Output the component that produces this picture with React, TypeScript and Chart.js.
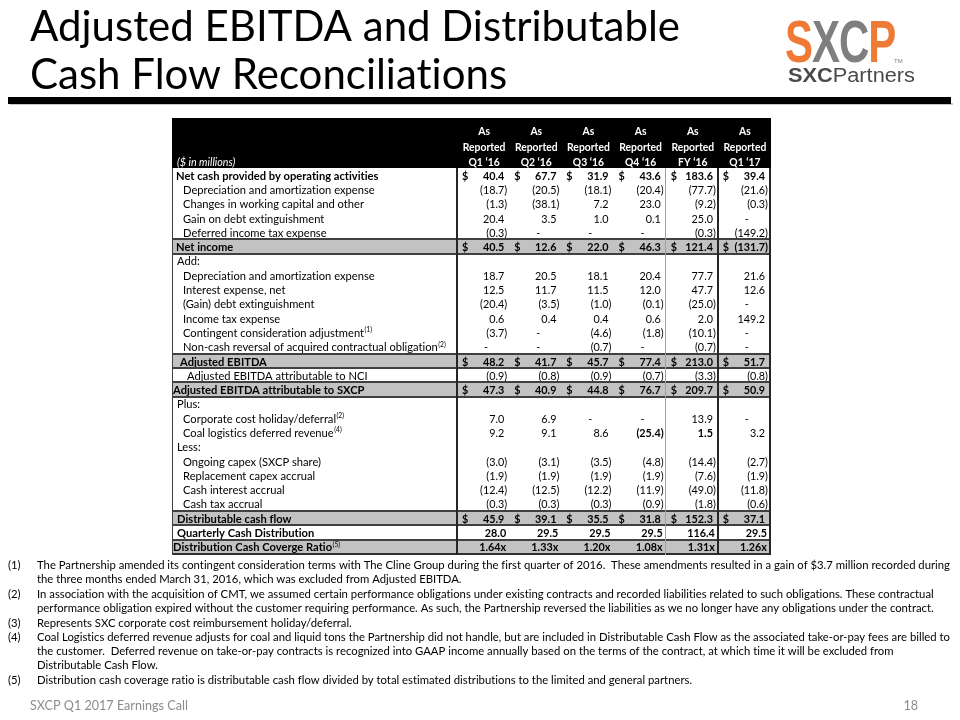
import React, { useEffect, useRef } from 'react';
import { Chart, registerables } from 'chart.js';

Chart.register(...registerables);

// ---------- data ----------
const periods = ['Q1 ‘16', 'Q2 ‘16', 'Q3 ‘16', 'Q4 ‘16', 'FY ‘16', 'Q1 ‘17'];
const headerLine1 = 'As';
const headerLine2 = 'Reported';
const unitsLabel = '($ in millions)';

const rowLabels = [
  'Net cash provided by operating activities',
  'Depreciation and amortization expense',
  'Changes in working capital and other',
  'Gain on debt extinguishment',
  'Deferred income tax expense',
  'Net income',
  'Add:',
  'Depreciation and amortization expense',
  'Interest expense, net',
  '(Gain) debt extinguishment',
  'Income tax expense',
  'Contingent consideration adjustment',
  'Non-cash reversal of acquired contractual obligation',
  'Adjusted EBITDA',
  'Adjusted EBITDA attributable to NCI',
  'Adjusted EBITDA attributable to SXCP',
  'Plus:',
  'Corporate cost holiday/deferral',
  'Coal logistics deferred revenue',
  'Less:',
  'Ongoing capex (SXCP share)',
  'Replacement capex accrual',
  'Cash interest accrual',
  'Cash tax accrual',
  'Distributable cash flow',
  'Quarterly Cash Distribution',
  'Distribution Cash Coverge Ratio',
];

const netCashOps = [40.4, 67.7, 31.9, 43.6, 183.6, 39.4];
const depAmortExp = [-18.7, -20.5, -18.1, -20.4, -77.7, -21.6];
const workingCapital = [-1.3, -38.1, 7.2, 23.0, -9.2, -0.3];
const gainDebtExt = [20.4, 3.5, 1.0, 0.1, 25.0, null];
const deferredTax = [-0.3, null, null, null, -0.3, -149.2];
const netIncome = [40.5, 12.6, 22.0, 46.3, 121.4, -131.7];
const addDepAmort = [18.7, 20.5, 18.1, 20.4, 77.7, 21.6];
const interestExp = [12.5, 11.7, 11.5, 12.0, 47.7, 12.6];
const gainDebtAdj = [-20.4, -3.5, -1.0, -0.1, -25.0, null];
const incomeTax = [0.6, 0.4, 0.4, 0.6, 2.0, 149.2];
const contingentAdj = [-3.7, null, -4.6, -1.8, -10.1, null];
const nonCashReversal = [null, null, -0.7, null, -0.7, null];
const adjEbitda = [48.2, 41.7, 45.7, 77.4, 213.0, 51.7];
const ebitdaNci = [-0.9, -0.8, -0.9, -0.7, -3.3, -0.8];
const ebitdaSxcp = [47.3, 40.9, 44.8, 76.7, 209.7, 50.9];
const corpCostHoliday = [7.0, 6.9, null, null, 13.9, null];
const coalDeferredRev = [9.2, 9.1, 8.6, -25.4, 1.5, 3.2];
const ongoingCapex = [-3.0, -3.1, -3.5, -4.8, -14.4, -2.7];
const replacementCapex = [-1.9, -1.9, -1.9, -1.9, -7.6, -1.9];
const cashInterest = [-12.4, -12.5, -12.2, -11.9, -49.0, -11.8];
const cashTax = [-0.3, -0.3, -0.3, -0.9, -1.8, -0.6];
const distributableCF = [45.9, 39.1, 35.5, 31.8, 152.3, 37.1];
const quarterlyDist = [28.0, 29.5, 29.5, 29.5, 116.4, 29.5];
const coverageRatio = [1.64, 1.33, 1.2, 1.08, 1.31, 1.26];

const titleLines = ['Adjusted EBITDA and Distributable', 'Cash Flow Reconciliations'];
const footnoteNums = ['(1)', '(2)', '(3)', '(4)', '(5)'];
const footnoteLines = [
  [
    'The Partnership amended its contingent consideration terms with The Cline Group during the first quarter of 2016.  These amendments resulted in a gain of $3.7 million recorded during',
    'the three months ended March 31, 2016, which was excluded from Adjusted EBITDA.',
  ],
  [
    'In association with the acquisition of CMT, we assumed certain performance obligations under existing contracts and recorded liabilities related to such obligations. These contractual',
    'performance obligation expired without the customer requiring performance. As such, the Partnership reversed the liabilities as we no longer have any obligations under the contract.',
  ],
  ['Represents SXC corporate cost reimbursement holiday/deferral.'],
  [
    'Coal Logistics deferred revenue adjusts for coal and liquid tons the Partnership did not handle, but are included in Distributable Cash Flow as the associated take-or-pay fees are billed to',
    'the customer.  Deferred revenue on take-or-pay contracts is recognized into GAAP income annually based on the terms of the contract, at which time it will be excluded from',
    'Distributable Cash Flow.',
  ],
  ['Distribution cash coverage ratio is distributable cash flow divided by total estimated distributions to the limited and general partners.'],
];
const footerText = 'SXCP Q1 2017 Earnings Call';
const pageNumber = '18';

// ---------- table built from the arrays ----------
type Kind = 'lead' | 'item' | 'section' | 'total' | 'nci' | 'sxcp' | 'bold' | 'ratio';
type Row = {
  label: string;
  values: (number | null)[] | null;
  kind: Kind;
  note?: string;
  boldCols?: number[];
  indent?: number;
};

const rows: Row[] = [
  { label: rowLabels[0], values: netCashOps, kind: 'lead' },
  { label: rowLabels[1], values: depAmortExp, kind: 'item' },
  { label: rowLabels[2], values: workingCapital, kind: 'item' },
  { label: rowLabels[3], values: gainDebtExt, kind: 'item' },
  { label: rowLabels[4], values: deferredTax, kind: 'item' },
  { label: rowLabels[5], values: netIncome, kind: 'total' },
  { label: rowLabels[6], values: null, kind: 'section' },
  { label: rowLabels[7], values: addDepAmort, kind: 'item' },
  { label: rowLabels[8], values: interestExp, kind: 'item' },
  { label: rowLabels[9], values: gainDebtAdj, kind: 'item' },
  { label: rowLabels[10], values: incomeTax, kind: 'item' },
  { label: rowLabels[11], values: contingentAdj, kind: 'item', note: '(1)' },
  { label: rowLabels[12], values: nonCashReversal, kind: 'item', note: '(2)' },
  { label: rowLabels[13], values: adjEbitda, kind: 'total', indent: 8 },
  { label: rowLabels[14], values: ebitdaNci, kind: 'nci' },
  { label: rowLabels[15], values: ebitdaSxcp, kind: 'sxcp' },
  { label: rowLabels[16], values: null, kind: 'section' },
  { label: rowLabels[17], values: corpCostHoliday, kind: 'item', note: '(2)' },
  { label: rowLabels[18], values: coalDeferredRev, kind: 'item', note: '(4)', boldCols: [3, 4] },
  { label: rowLabels[19], values: null, kind: 'section' },
  { label: rowLabels[20], values: ongoingCapex, kind: 'item' },
  { label: rowLabels[21], values: replacementCapex, kind: 'item' },
  { label: rowLabels[22], values: cashInterest, kind: 'item' },
  { label: rowLabels[23], values: cashTax, kind: 'item' },
  { label: rowLabels[24], values: distributableCF, kind: 'total', indent: 5 },
  { label: rowLabels[25], values: quarterlyDist, kind: 'bold' },
  { label: rowLabels[26], values: coverageRatio, kind: 'ratio', note: '(5)' },
];

const KIND_STYLE: Record<Kind, { bold: boolean; grey: boolean; dollar: boolean; indent: number; flush: boolean }> = {
  lead: { bold: true, grey: false, dollar: true, indent: 4, flush: false },
  item: { bold: false, grey: false, dollar: false, indent: 11, flush: false },
  section: { bold: false, grey: false, dollar: false, indent: 5, flush: false },
  total: { bold: true, grey: true, dollar: true, indent: 4, flush: false },
  nci: { bold: false, grey: false, dollar: false, indent: 15, flush: false },
  sxcp: { bold: true, grey: true, dollar: true, indent: 1, flush: false },
  bold: { bold: true, grey: false, dollar: false, indent: 5, flush: true },
  ratio: { bold: true, grey: true, dollar: false, indent: 1, flush: true },
};

const FONT = 'Lato, "Open Sans", sans-serif';
const LOGO_FONT = '"Liberation Sans", Arial, sans-serif';
const SQ = 0.9; // horizontal squeeze for numbers to approximate Calibri
const SQ_LABEL = 0.93;

function prep(ctx: CanvasRenderingContext2D) {
  const c: any = ctx;
  if ('textRendering' in c) c.textRendering = 'optimizeSpeed';
}

function drawText(
  ctx: CanvasRenderingContext2D,
  s: string,
  x: number,
  y: number,
  font: string,
  color: string,
  align: 'left' | 'right' | 'center' = 'left',
  sx = SQ,
): number {
  ctx.save();
  prep(ctx);
  ctx.font = font;
  ctx.fillStyle = color;
  ctx.textAlign = 'left';
  ctx.textBaseline = 'alphabetic';
  const w = ctx.measureText(s).width * sx;
  const x0 = align === 'right' ? x - w : align === 'center' ? x - w / 2 : x;
  ctx.translate(x0, y);
  ctx.scale(sx, 1);
  ctx.fillText(s, 0, 0);
  ctx.restore();
  return w;
}

function measure(ctx: CanvasRenderingContext2D, s: string, font: string): number {
  ctx.save();
  prep(ctx);
  ctx.font = font;
  const w = ctx.measureText(s).width;
  ctx.restore();
  return w;
}

function fmt(v: number, ratio: boolean): string {
  if (ratio) return v.toFixed(2) + 'x';
  return v < 0 ? '(' + Math.abs(v).toFixed(1) + ')' : v.toFixed(1);
}

const TABLE_LEFT = 172;
const HEADER_TOP = 118;

const slidePlugin = {
  id: 'slide',
  beforeDraw(chart: any) {
    const ctx: CanvasRenderingContext2D = chart.ctx;
    ctx.save();
    ctx.fillStyle = '#ffffff';
    ctx.fillRect(0, 0, chart.width, chart.height);
    ctx.restore();
  },
  afterDraw(chart: any) {
    const ctx: CanvasRenderingContext2D = chart.ctx;
    const xs = chart.scales.x;
    const ys = chart.scales.y;
    const area = chart.chartArea;

    // ---- title ----
    const titleFont = `400 42px ${FONT}`;
    const tsx = (680 - 30) / measure(ctx, titleLines[0], titleFont);
    drawText(ctx, titleLines[0], 30, 41, titleFont, '#000', 'left', tsx);
    drawText(ctx, titleLines[1], 30, 89, titleFont, '#000', 'left', tsx);

    // ---- bar ----
    ctx.fillStyle = '#c8c8c8';
    ctx.fillRect(10, 103, 943, 2);
    ctx.fillStyle = '#000';
    ctx.fillRect(8, 97, 943, 7);

    // ---- logo ----
    const logoFont = `700 60px ${LOGO_FONT}`;
    const letters = [
      ['S', '#ee7a35'],
      ['X', '#7f7f7f'],
      ['C', '#7f7f7f'],
      ['P', '#ee7a35'],
    ];
    let lx = 785;
    letters.forEach(([ch, col]) => {
      const w = drawText(ctx, ch, lx, 62, logoFont, col, 'left', 0.7);
      lx += w - 1;
    });
    drawText(ctx, 'TM', 894, 63, `400 6px ${LOGO_FONT}`, '#7f7f7f', 'left', 1);
    const pFontB = `700 20px ${LOGO_FONT}`;
    const pFontR = `400 20px ${LOGO_FONT}`;
    const natW = measure(ctx, 'SXC', pFontB) + measure(ctx, 'Partners', pFontR);
    const psx = (915 - 788) / natW;
    const wS = drawText(ctx, 'SXC', 788, 82, pFontB, '#4a4a4a', 'left', psx);
    drawText(ctx, 'Partners', 788 + wS, 82, pFontR, '#4a4a4a', 'left', psx);

    // ---- table geometry from scales ----
    const colW = xs.getPixelForValue(1) - xs.getPixelForValue(0);
    const rowH = ys.getPixelForValue(1) - ys.getPixelForValue(0);
    const left = TABLE_LEFT;
    const right = area.right;
    const top = area.top;
    const bottom = area.bottom;

    // header
    ctx.fillStyle = '#000';
    ctx.fillRect(left, HEADER_TOP, right - left + 1, top - HEADER_TOP);
    const hb = `700 11.5px ${FONT}`;
    periods.forEach((p, i) => {
      const cx = xs.getPixelForValue(i) + 1;
      drawText(ctx, headerLine1, cx, 135, hb, '#fff', 'center');
      drawText(ctx, headerLine2, cx, 151, hb, '#fff', 'center');
      drawText(ctx, p, cx, 166, hb, '#fff', 'center');
    });
    drawText(ctx, unitsLabel, left + 5, 166, `italic 400 11.5px ${FONT}`, '#fff', 'left', SQ_LABEL);

    // row fills
    rows.forEach((r, i) => {
      const st = KIND_STYLE[r.kind];
      if (st.grey) {
        const cy = ys.getPixelForValue(i);
        ctx.fillStyle = '#c2c2c2';
        ctx.fillRect(left, cy - rowH / 2, right - left, rowH);
      }
    });

    // row text
    const regular = `400 12px ${FONT}`;
    const boldF = `700 12px ${FONT}`;
    const parenW = measure(ctx, ')', regular) * SQ;
    const digitW = measure(ctx, '0', regular) * SQ;
    rows.forEach((r, i) => {
      const st = KIND_STYLE[r.kind];
      const cy = ys.getPixelForValue(i);
      const base = cy + 4.5;
      const lf = st.bold ? boldF : regular;
      const ind = r.indent ?? st.indent;
      const w = drawText(ctx, r.label, left + ind, base, lf, '#000', 'left', SQ_LABEL);
      if (r.note) drawText(ctx, r.note, left + ind + w + 0.5, base - 4.5, `400 7.5px ${FONT}`, '#000');
      if (!r.values) return;
      r.values.forEach((v, j) => {
        const cx = xs.getPixelForValue(j);
        const cl = cx - colW / 2;
        const cr = cx + colW / 2;
        const vb = st.bold || (r.boldCols && r.boldCols.includes(j));
        const vf = vb ? boldF : regular;
        if (st.dollar) drawText(ctx, '$', cl + 5, base, vf, '#000');
        const parenRight = cr - 2;
        const posRight = st.flush ? cr - 3 : parenRight - parenW;
        if (v === null) {
          drawText(ctx, '-', posRight - 2.6 * digitW, base, vf, '#000', 'right');
        } else if (v < 0) {
          drawText(ctx, fmt(v, false), parenRight, base, vf, '#000', 'right');
        } else {
          drawText(ctx, fmt(v, r.kind === 'ratio'), posRight, base, vf, '#000', 'right');
        }
      });
    });

    // horizontal borders
    const hline = (y: number, lw: number, col: string) => {
      ctx.fillStyle = col;
      ctx.fillRect(left, Math.round(y - lw / 2), right - left + 1, lw);
    };
    rows.forEach((r, i) => {
      const st = KIND_STYLE[r.kind];
      const cy = ys.getPixelForValue(i);
      if (st.grey) {
        hline(cy - rowH / 2, 2, '#404040');
        hline(cy + rowH / 2, 2, '#404040');
      }
      if (r.kind === 'bold') hline(cy + rowH / 2, 2, '#404040');
    });
    hline(bottom, 2, '#303030');

    // vertical borders
    const vline = (x: number, lw: number, col: string) => {
      ctx.fillStyle = col;
      ctx.fillRect(Math.round(x - lw / 2), top, lw, bottom - top + 1);
    };
    vline(left + 0.5, 1, '#404040');
    vline(area.left, 2, '#262626');
    vline(xs.getPixelForValue(4) - colW / 2, 1, '#a0a0a0');
    vline(xs.getPixelForValue(5) - colW / 2, 2, '#262626');
    vline(right, 2, '#262626');

    // ---- footnotes ----
    const fnFont = `400 12px ${FONT}`;
    const fsx = (950 - 37) / measure(ctx, footnoteLines[0][0], fnFont);
    const lineYs = [569, 583, 598, 612, 627, 641, 655, 669, 684];
    let k = 0;
    footnoteLines.forEach((para, p) => {
      drawText(ctx, footnoteNums[p], 8, lineYs[k], fnFont, '#000', 'left', fsx);
      para.forEach((ln) => {
        drawText(ctx, ln, 37, lineYs[k], fnFont, '#000', 'left', fsx);
        k++;
      });
    });

    // ---- footer ----
    drawText(ctx, footerText, 30, 710, `400 14px ${FONT}`, '#8c8c8c', 'left', 0.9);
    drawText(ctx, pageNumber, 918, 710, `400 14px ${FONT}`, '#8c8c8c', 'right', 0.9);
  },
};

export default function App() {
  const ref = useRef<HTMLCanvasElement>(null);
  useEffect(() => {
    if (!ref.current) return;
    const chart = new Chart(ref.current, {
      type: 'bar',
      data: { labels: periods, datasets: [] },
      options: {
        responsive: false,
        maintainAspectRatio: false,
        animation: false,
        devicePixelRatio: 1,
        layout: { padding: { left: 457, right: 960 - 770, top: 168, bottom: 720 - 554 } },
        plugins: { legend: { display: false }, tooltip: { enabled: false }, title: { display: false } },
        scales: {
          x: { type: 'category', labels: periods, offset: true, display: false },
          y: { type: 'category', labels: rowLabels.map((l, i) => i + ':' + l), offset: true, display: false },
        },
      },
      plugins: [slidePlugin],
    } as any);
    return () => chart.destroy();
  }, []);
  return (
    <div style={{ position: 'fixed', left: 0, top: 0, width: 960, height: 720, background: '#fff' }}>
      <canvas ref={ref} width={960} height={720} style={{ display: 'block', width: 960, height: 720 }} />
    </div>
  );
}
